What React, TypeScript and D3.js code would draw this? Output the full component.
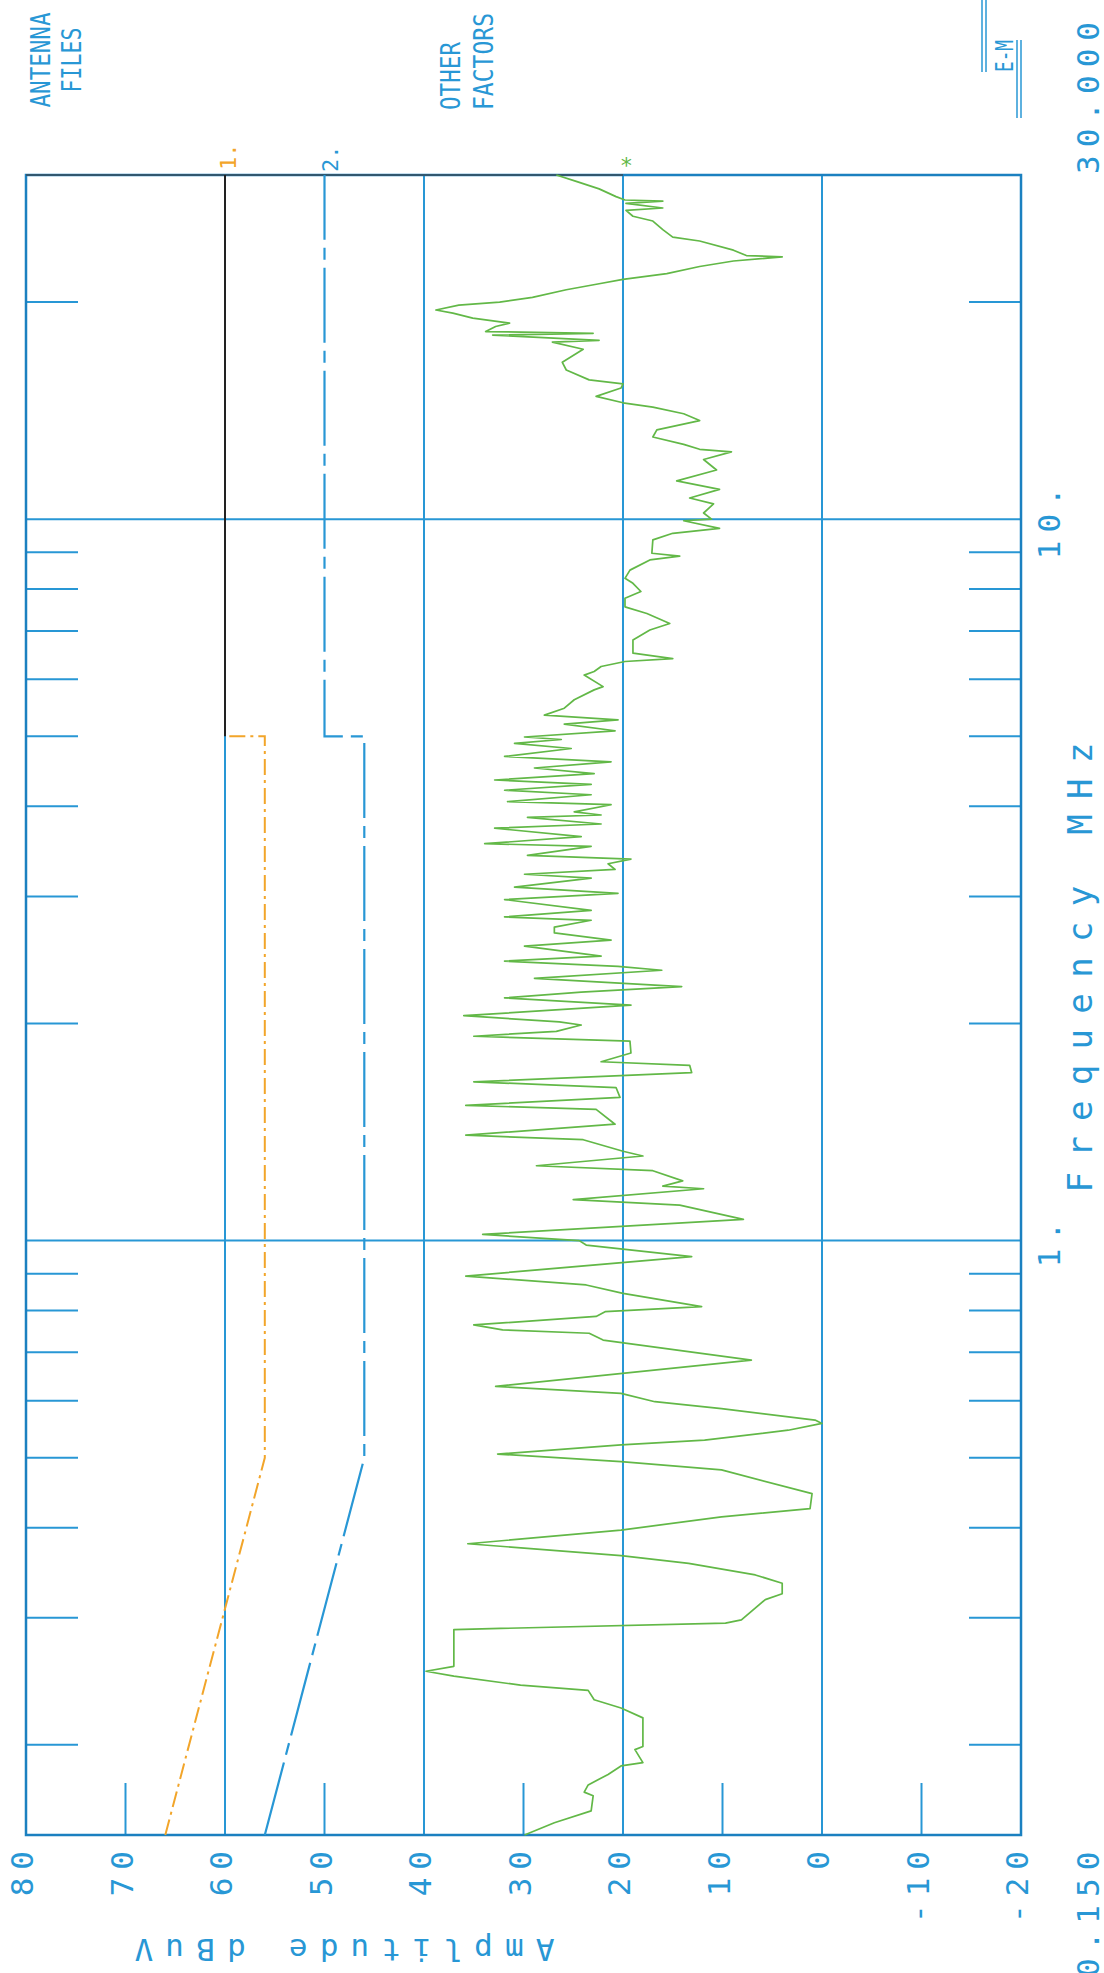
import React from 'react';
import * as d3 from 'd3';

const width = 1104;
const height = 1973;
const marginTop = 175;
const marginBottom = 138;
const marginLeft = 26;
const marginRight = 83;

// the sheet is turned: frequency (MHz, log) runs bottom -> top, amplitude (dBuV) left -> right
const ampGrid = [60, 40, 20, 0];
const ampMinor = [70, 50, 30, 10, -10];
const ampTicks = [80, 70, 60, 50, 40, 30, 20, 10, 0, -10, -20];
const freqGrid = [1, 10];
const freqMinor = [0.2, 0.3, 0.4, 0.5, 0.6, 0.7, 0.8, 0.9, 2, 3, 4, 5, 6, 7, 8, 9, 20];
const freqTicks = [1, 10];
const freqTickText = ['1.', '10.'];

// limit line 1 (quasi-peak) and line 2 (average)
const limit1: [number, number][] = [[0.15, 66], [0.5, 56], [5, 56], [5, 60]];
const limit1Upper: [number, number][] = [[5, 60], [30, 60]];
const limit2: [number, number][] = [[0.15, 56], [0.5, 46], [5, 46], [5, 50], [30, 50]];

const trace: [number, number][] = [
  [30.0, 26.7], [29.4, 24.7], [28.7, 22.4], [28.0, 20.7], [27.7, 19.8], [27.6, 16.0], [27.4, 19.7],
  [27.0, 16.0], [26.8, 19.7], [26.3, 19.0], [25.9, 17.0], [25.2, 16.0], [24.6, 15.0], [24.3, 12.3],
  [23.6, 8.9], [23.2, 7.6], [23.1, 4.0], [22.8, 8.9], [22.4, 12.3], [21.9, 15.6], [21.5, 20.0],
  [21.2, 22.4], [20.8, 25.7], [20.3, 29.1], [20.0, 32.4], [19.8, 36.5], [19.5, 38.8], [19.3, 37.1],
  [19.0, 35.1], [18.7, 31.4], [18.5, 32.8], [18.2, 33.8], [18.1, 23.0], [18.0, 33.1], [17.7, 22.4],
  [17.6, 27.1], [17.2, 24.0], [16.5, 26.1], [16.1, 25.7], [15.6, 23.4], [15.4, 20.0], [15.2, 20.2],
  [14.8, 22.7], [14.5, 20.0], [14.3, 17.0], [14.0, 13.9], [13.7, 12.3], [13.3, 16.6], [13.0, 17.0],
  [12.7, 13.9], [12.5, 12.3], [12.4, 9.1], [12.1, 11.9], [11.7, 10.6], [11.3, 14.6], [11.0, 10.3],
  [10.7, 13.3], [10.5, 10.9], [10.2, 11.9], [10.0, 11.1], [9.95, 13.9], [9.71, 10.3], [9.56, 15.0],
  [9.36, 17.0], [8.97, 17.1], [8.89, 14.3], [8.78, 17.3], [8.50, 19.3], [8.28, 19.8], [8.15, 19.0],
  [7.94, 18.2], [7.77, 19.8], [7.56, 19.8], [7.40, 17.6], [7.17, 15.3], [7.02, 17.3], [6.80, 19.0],
  [6.52, 19.0], [6.41, 15.0], [6.35, 19.8], [6.25, 22.2], [6.15, 22.9], [6.08, 23.9], [5.86, 22.0],
  [5.80, 22.9], [5.62, 24.9], [5.47, 25.9], [5.35, 27.9], [5.27, 20.5], [5.20, 25.9], [5.09, 20.8],
  [4.99, 29.9], [4.95, 26.2], [4.89, 30.9], [4.81, 25.2], [4.69, 31.9], [4.61, 21.2], [4.52, 28.9],
  [4.44, 22.9], [4.35, 32.9], [4.29, 23.2], [4.21, 31.9], [4.15, 23.2], [4.06, 31.6], [4.02, 21.2],
  [3.93, 24.9], [3.89, 22.2], [3.86, 29.6], [3.78, 22.2], [3.73, 32.9], [3.63, 24.2], [3.55, 33.9],
  [3.52, 23.2], [3.42, 29.6], [3.38, 19.2], [3.33, 21.5], [3.27, 20.8], [3.22, 29.9], [3.18, 23.2],
  [3.09, 30.9], [3.03, 20.5], [2.97, 31.9], [2.87, 23.2], [2.81, 31.9], [2.78, 23.2], [2.72, 26.9],
  [2.67, 26.9], [2.61, 21.2], [2.56, 29.9], [2.48, 22.2], [2.44, 31.9], [2.40, 20.5], [2.37, 16.1],
  [2.31, 28.9], [2.25, 14.1], [2.21, 24.2], [2.17, 31.9], [2.12, 19.2], [2.05, 36.0], [2.01, 26.4],
  [1.99, 24.2], [1.95, 26.7], [1.92, 35.0], [1.89, 19.3], [1.82, 19.2], [1.77, 22.2], [1.75, 13.3],
  [1.71, 13.1], [1.66, 35.0], [1.63, 20.7], [1.58, 20.3], [1.54, 35.8], [1.52, 22.7], [1.45, 20.8],
  [1.40, 35.8], [1.38, 24.0], [1.33, 20.0], [1.31, 18.0], [1.27, 28.7], [1.25, 17.0], [1.21, 14.0],
  [1.19, 16.0], [1.18, 11.9], [1.14, 25.0], [1.12, 14.3], [1.07, 7.9], [1.02, 34.1], [1.00, 24.4],
  [0.986, 23.7], [0.950, 13.1], [0.893, 35.8], [0.868, 23.7], [0.845, 20.0], [0.810, 12.1],
  [0.797, 21.8], [0.785, 22.7], [0.764, 35.0], [0.752, 32.1], [0.744, 23.4], [0.728, 22.0],
  [0.683, 7.1], [0.628, 32.8], [0.614, 20.2], [0.598, 16.8], [0.585, 10.1], [0.564, 0.7],
  [0.558, 0.0], [0.546, 3.4], [0.529, 11.8], [0.521, 20.2], [0.506, 32.6], [0.494, 20.2],
  [0.481, 10.1], [0.446, 1.0], [0.425, 1.2], [0.414, 10.1], [0.397, 20.2], [0.380, 35.6],
  [0.366, 20.2], [0.357, 13.4], [0.344, 6.7], [0.335, 4.0], [0.324, 4.0], [0.318, 5.7],
  [0.298, 8.1], [0.295, 9.7], [0.289, 37.0], [0.257, 37.0], [0.253, 39.8], [0.249, 37.0],
  [0.242, 30.3], [0.238, 23.5], [0.231, 22.9], [0.225, 20.2], [0.218, 18.0], [0.199, 18.0],
  [0.197, 18.8], [0.189, 18.0], [0.187, 20.2], [0.182, 21.5], [0.176, 23.5], [0.172, 23.9],
  [0.170, 23.0], [0.162, 23.2], [0.156, 26.9], [0.150, 29.9],
];

const blue = '#2897d5';
const frame = '#1b80c0';
const green = '#62b847';
const orange = '#f2a52a';
const mono = '"DejaVu Sans Mono", "Liberation Mono", monospace';

// text that reads bottom -> top, baseline on its right side
const Up = ({ x, y, anchor = 'start', size = 31, spacing = 8, fill = blue, len, squeeze = false, children }: any) => (
  <text
    transform={`translate(${x},${y}) rotate(-90)`}
    textAnchor={anchor}
    fontFamily={mono}
    fontSize={size}
    letterSpacing={len ? undefined : spacing}
    textLength={len}
    lengthAdjust={len ? (squeeze ? 'spacingAndGlyphs' : 'spacing') : undefined}
    fill={fill}
  >
    {children}
  </text>
);

const App = () => {
  const x = d3.scaleLinear().domain([80, -20]).range([marginLeft, width - marginRight]);
  const y = d3.scaleLog().domain([0.15, 30]).range([height - marginBottom, marginTop]);
  const line = d3.line<[number, number]>().x(d => x(d[1])).y(d => y(d[0]));
  const left = x(80), right = x(-20), top = y(30), bottom = y(0.15);

  return (
    <div style={{ position: 'absolute', left: 0, top: 0 }}>
      <svg width={width} height={height} style={{ display: 'block', background: '#fff' }}>
        {/* grid */}
        <g stroke={blue} strokeWidth={2}>
          {ampGrid.map(a => <line key={a} x1={x(a)} x2={x(a)} y1={top} y2={bottom} />)}
          {freqGrid.map(f => <line key={f} x1={left} x2={right} y1={y(f)} y2={y(f)} />)}
          {ampMinor.map(a => <line key={a} x1={x(a)} x2={x(a)} y1={bottom} y2={bottom - 52} />)}
          {freqMinor.map(f => (
            <g key={f}>
              <line x1={left} x2={left + 52} y1={y(f)} y2={y(f)} />
              <line x1={right - 52} x2={right} y1={y(f)} y2={y(f)} />
            </g>
          ))}
        </g>
        <rect x={left} y={top} width={right - left} height={bottom - top} fill="none" stroke={frame} strokeWidth={2.5} />
        <line x1={left} x2={x(20)} y1={top} y2={top} stroke="#3a4a55" strokeWidth={1.5} />

        {/* limit lines */}
        <path d={line(limit1Upper) ?? ''} fill="none" stroke="#222" strokeWidth={2} />
        <path d={line(limit1) ?? ''} fill="none" stroke={orange} strokeWidth={2} strokeDasharray="16 5 3 5" />
        <path d={line(limit2) ?? ''} fill="none" stroke={blue} strokeWidth={2.2} strokeDasharray="75 8 12 8" />

        {/* scan */}
        <path d={line(trace) ?? ''} fill="none" stroke={green} strokeWidth={1.7} strokeLinejoin="round" />
        <text x={x(trace[0][1]) + 70} y={top - 10} textAnchor="middle" dominantBaseline="central" fontFamily={mono} fontSize={22} fill={green}>*</text>

        {/* line markers */}
        <Up x={x(60) + 11} y={top - 5} size={22} spacing={0} fill={orange}>1.</Up>
        <Up x={x(50) + 13} y={top - 3} size={22} spacing={0}>2.</Up>

        {/* amplitude ticks */}
        {ampTicks.map(a => (
          <Up key={a} x={x(a) + 7} y={bottom + 8} anchor="end">{a}</Up>
        ))}
        <text
          transform={`translate(${(x(70) + x(30)) / 2 + 20},${height - 34}) rotate(180)`}
          textAnchor="middle"
          fontFamily={mono}
          fontSize={31}
          textLength={420}
          lengthAdjust="spacing"
          fill={blue}
        >
          Amplitude  dBuV
        </text>

        {/* frequency labels */}
        <Up x={1099} y={top - 1} size={31}>30.000</Up>
        <Up x={1099} y={height + 4} size={31}>0.150</Up>
        {freqTicks.map((f, i) => (
          <Up key={f} x={1060} y={y(f)} anchor="middle" size={31}>{freqTickText[i]}</Up>
        ))}
        <Up x={1092} y={y(1) - 48} size={34} len={450}>Frequency   MHz</Up>

        {/* header notes */}
        <Up x={50} y={60} anchor="middle" size={26} len={95} squeeze>ANTENNA</Up>
        <Up x={81} y={60} anchor="middle" size={26} len={65} squeeze>FILES</Up>
        <Up x={460} y={110} size={26} len={68} squeeze>OTHER</Up>
        <Up x={493} y={110} size={26} len={97} squeeze>FACTORS</Up>
        <Up x={1013} y={72} size={24} len={32} squeeze>E-M</Up>
        <g stroke={blue} strokeWidth={1.5}>
          <line x1={982} x2={982} y1={0} y2={72} />
          <line x1={986} x2={986} y1={0} y2={72} />
          <line x1={1017} x2={1017} y1={40} y2={118} />
          <line x1={1021} x2={1021} y1={40} y2={118} />
        </g>
      </svg>
    </div>
  );
};

export default App;
